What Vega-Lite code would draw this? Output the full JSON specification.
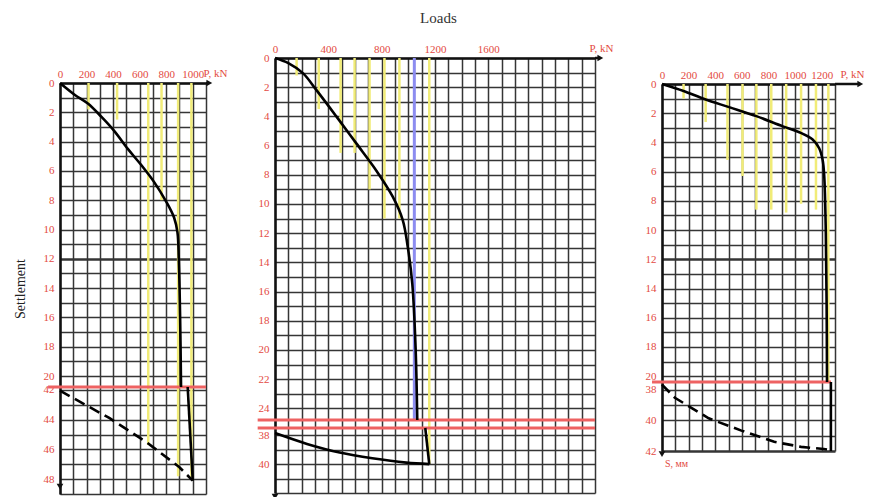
{
  "$schema": "https://vega.github.io/schema/vega-lite/v6.json",
  "background": "white",
  "padding": {"left": 13, "top": 11, "right": 0, "bottom": 0},
  "title": {"text": "Loads", "font": "Liberation Serif", "fontSize": 15, "fontWeight": "normal", "color": "#333333", "anchor": "middle", "offset": 16},
  "config": {
    "view": {"stroke": null},
    "axis": {
      "labelFont": "Liberation Serif", "labelFontSize": 11, "labelColor": "#e34a42",
      "ticks": false, "domainColor": "#111111", "domainWidth": 2.5,
      "grid": true, "gridColor": "#353535", "gridWidth": 1.5,
      "labelOverlap": false, "labelFlush": false, "labelBound": false,
      "titleFont": "Liberation Serif", "titleFontWeight": "normal"
    }
  },
  "datasets": {
    "p1curve": [
      {"seg": "a", "i": 0, "P": 0, "S": 0}, {"seg": "a", "i": 1, "P": 110, "S": 0.8}, {"seg": "a", "i": 2, "P": 210, "S": 1.4},
      {"seg": "a", "i": 3, "P": 311, "S": 2.3}, {"seg": "a", "i": 4, "P": 411, "S": 3.3}, {"seg": "a", "i": 5, "P": 511, "S": 4.5},
      {"seg": "a", "i": 6, "P": 612, "S": 5.6}, {"seg": "a", "i": 7, "P": 712, "S": 6.8}, {"seg": "a", "i": 8, "P": 800, "S": 8.1},
      {"seg": "a", "i": 9, "P": 860, "S": 9.2}, {"seg": "a", "i": 10, "P": 885, "S": 10.2}, {"seg": "a", "i": 11, "P": 895, "S": 12},
      {"seg": "a", "i": 12, "P": 905, "S": 16}, {"seg": "a", "i": 13, "P": 912, "S": 20.75},
      {"seg": "b", "i": 14, "P": 962, "S": 41.8}, {"seg": "b", "i": 15, "P": 1000, "S": 48.1}
    ],
    "p1dash": [
      {"i": 0, "P": 0, "S": 42.05}, {"i": 1, "P": 374, "S": 43.9}, {"i": 2, "P": 650, "S": 45.5}, {"i": 3, "P": 900, "S": 47.2}, {"i": 4, "P": 1000, "S": 48.1}
    ],
    "p1yellow": [
      {"P": 215, "S": 0, "S2": 1.8}, {"P": 430, "S": 0, "S2": 2.5}, {"P": 665, "S": 0, "S2": 45.7},
      {"P": 765, "S": 0, "S2": 8}, {"P": 890, "S": 0, "S2": 47.8}, {"P": 990, "S": 0, "S2": 48}
    ],
    "p1break": [{"P": -90, "P2": 1100, "S": 20.75}],
    "p1ext": [{"P": 1100, "P2": 1120, "S": 0}],
    "p1arrow": [{"P": 1125, "S": 0, "shape": "triangle-right"}, {"P": 0, "S": 48.5, "shape": "triangle-down"}],

    "p2curve": [
      {"seg": "a", "i": 0, "P": 0, "S": 0}, {"seg": "a", "i": 1, "P": 100, "S": 0.35}, {"seg": "a", "i": 2, "P": 211, "S": 1.05},
      {"seg": "a", "i": 3, "P": 311, "S": 2.2}, {"seg": "a", "i": 4, "P": 460, "S": 4.0}, {"seg": "a", "i": 5, "P": 610, "S": 5.85},
      {"seg": "a", "i": 6, "P": 759, "S": 7.7}, {"seg": "a", "i": 7, "P": 883, "S": 9.5}, {"seg": "a", "i": 8, "P": 958, "S": 11.1},
      {"seg": "a", "i": 9, "P": 995, "S": 12.9}, {"seg": "a", "i": 10, "P": 1030, "S": 15.5}, {"seg": "a", "i": 11, "P": 1055, "S": 20},
      {"seg": "a", "i": 12, "P": 1067, "S": 24.8},
      {"seg": "b", "i": 13, "P": 1127, "S": 37.5}, {"seg": "b", "i": 14, "P": 1157, "S": 40},
      {"seg": "c", "i": 15, "P": 1157, "S": 40}, {"seg": "c", "i": 16, "P": 985, "S": 39.9}, {"seg": "c", "i": 17, "P": 730, "S": 39.6},
      {"seg": "c", "i": 18, "P": 485, "S": 39.2}, {"seg": "c", "i": 19, "P": 240, "S": 38.6}, {"seg": "c", "i": 20, "P": 0, "S": 37.85}
    ],
    "p2yellow": [
      {"P": 162, "S": 0, "S2": 1.2}, {"P": 328, "S": 0, "S2": 3.5}, {"P": 492, "S": 0, "S2": 6.5}, {"P": 597, "S": 0, "S2": 6.5},
      {"P": 709, "S": 0, "S2": 9}, {"P": 821, "S": 0, "S2": 11}, {"P": 933, "S": 0, "S2": 11}, {"P": 1157, "S": 0, "S2": 40}
    ],
    "p2blue": [{"P": 1045, "S": 0, "S2": 24.8}],
    "p2break": [{"P": -130, "P2": 2400, "S": 24.8}, {"P": -130, "P2": 2400, "S": 37.5}],
    "p2ext": [{"P": 2400, "P2": 2430, "S": 0}],
    "p2arrow": [{"P": 2440, "S": 0, "shape": "triangle-right"}, {"P": 0, "S": 42.25, "shape": "triangle-down"}],

    "p3curve": [
      {"seg": "a", "i": 0, "P": 0, "S": 0}, {"seg": "a", "i": 1, "P": 162, "S": 0.48}, {"seg": "a", "i": 2, "P": 323, "S": 1.05},
      {"seg": "a", "i": 3, "P": 510, "S": 1.6}, {"seg": "a", "i": 4, "P": 709, "S": 2.2}, {"seg": "a", "i": 5, "P": 908, "S": 2.9},
      {"seg": "a", "i": 6, "P": 1032, "S": 3.3}, {"seg": "a", "i": 7, "P": 1132, "S": 3.8}, {"seg": "a", "i": 8, "P": 1181, "S": 4.4},
      {"seg": "a", "i": 9, "P": 1207, "S": 5.2}, {"seg": "a", "i": 10, "P": 1219, "S": 6.3}, {"seg": "a", "i": 11, "P": 1231, "S": 10.2},
      {"seg": "a", "i": 12, "P": 1237, "S": 15}, {"seg": "a", "i": 13, "P": 1240, "S": 20.4},
      {"seg": "b", "i": 14, "P": 1269, "S": 37.5}, {"seg": "b", "i": 15, "P": 1269, "S": 42}
    ],
    "p3dash": [
      {"i": 0, "P": 0, "S": 37.67}, {"i": 1, "P": 97, "S": 38.53}, {"i": 2, "P": 224, "S": 39.2}, {"i": 3, "P": 351, "S": 39.87},
      {"i": 4, "P": 597, "S": 40.67}, {"i": 5, "P": 843, "S": 41.4}, {"i": 6, "P": 1045, "S": 41.73}, {"i": 7, "P": 1216, "S": 41.87},
      {"i": 8, "P": 1269, "S": 41.95}
    ],
    "p3yellow": [
      {"P": 162, "S": 0, "S2": 1}, {"P": 328, "S": 0, "S2": 2.6}, {"P": 492, "S": 0, "S2": 5.2}, {"P": 605, "S": 0, "S2": 6.3},
      {"P": 709, "S": 0, "S2": 8.6}, {"P": 821, "S": 0, "S2": 8.6}, {"P": 933, "S": 0, "S2": 8.8}, {"P": 1045, "S": 0, "S2": 8.2},
      {"P": 1157, "S": 0, "S2": 8.6}, {"P": 1250, "S": 0, "S2": 20.4}
    ],
    "p3break": [{"P": -75, "P2": 1270, "S": 20.4}],
    "p3ext": [{"P": 1300, "P2": 1480, "S": 0}],
    "p3arrow": [{"P": 1490, "S": 0, "shape": "triangle-right"}, {"P": 0, "S": 42.2, "shape": "triangle-down"}]
  },
  "spacing": 29,
  "hconcat": [
    {
      "width": 146, "height": 436,
      "encoding": {
        "x": {"field": "P", "type": "quantitative",
          "scale": {"domain": [0, 1100], "nice": false, "zero": false},
          "axis": {"orient": "top", "offset": -25, "values": [0,100,200,300,400,500,600,700,800,900,1000,1100], "format": "d",
            "labelExpr": "datum.value % 200 === 0 && datum.value <= 1000 ? datum.label : ''",
            "labelPadding": 4,
            "title": "P, kN", "titleX": 143, "titleY": -10, "titleAlign": "left", "titleBaseline": "middle", "titleAngle": 0,
            "titleColor": "#e34a42", "titleFontSize": 11}},
        "y": {"field": "S", "type": "quantitative",
          "scale": {"domain": [0, 20.75, 41.8, 49], "range": [25, 329, 329, 436], "nice": false, "zero": false},
          "axis": {"values": [0,1,2,3,4,5,6,7,8,9,10,11,12,13,14,15,16,17,18,19,20,42,43,44,45,46,47,48,49],
            "labelExpr": "datum.value % 2 === 0 ? datum.label : ''", "labelPadding": 6,
            "gridWidth": {"condition": {"test": "datum.value === 12", "value": 2.3}, "value": 1.5},
            "title": "Settlement", "titleFontSize": 14, "titleColor": "#222222", "titlePadding": 16}}
      },
      "layer": [
        {"data": {"name": "p1yellow"}, "mark": {"type": "rule", "color": "#f1ec78", "strokeWidth": 2.5}, "encoding": {"y2": {"field": "S2"}}},
        {"data": {"name": "p1break"}, "mark": {"type": "rule", "color": "#ee6262", "strokeWidth": 3}, "encoding": {"x2": {"field": "P2"}}},
        {"data": {"name": "p1curve"}, "mark": {"type": "line", "color": "#000000", "strokeWidth": 2.6, "interpolate": "catmull-rom"},
          "encoding": {"detail": {"field": "seg"}, "order": {"field": "i", "type": "quantitative"}}},
        {"data": {"name": "p1dash"}, "mark": {"type": "line", "color": "#000000", "strokeWidth": 2.6, "strokeDash": [11, 6]},
          "encoding": {"order": {"field": "i", "type": "quantitative"}}},
        {"data": {"name": "p1ext"}, "mark": {"type": "rule", "color": "#111111", "strokeWidth": 2.5}, "encoding": {"x2": {"field": "P2"}}},
        {"data": {"name": "p1arrow"}, "mark": {"type": "point", "filled": true, "color": "#111111", "size": 45, "opacity": 1},
          "encoding": {"shape": {"field": "shape", "type": "nominal", "scale": null}}}
      ]
    },
    {
      "spacing": 32,
      "hconcat": [
        {
          "width": 320, "height": 435,
          "encoding": {
            "x": {"field": "P", "type": "quantitative",
              "scale": {"domain": [0, 2400], "nice": false, "zero": false},
              "axis": {"orient": "top", "values": [0,100,200,300,400,500,600,700,800,900,1000,1100,1200,1300,1400,1500,1600,1700,1800,1900,2000,2100,2200,2300,2400], "format": "d",
                "labelExpr": "datum.value % 400 === 0 && datum.value <= 1600 ? datum.label : ''",
                "labelPadding": 4,
                "title": "P, kN", "titleX": 314, "titleY": -10, "titleAlign": "left", "titleBaseline": "middle", "titleAngle": 0,
                "titleColor": "#e34a42", "titleFontSize": 11}},
            "y": {"field": "S", "type": "quantitative",
              "scale": {"domain": [0, 24.8, 37.5, 42], "range": [0, 362, 370, 435], "nice": false, "zero": false},
              "axis": {"values": [0,1,2,3,4,5,6,7,8,9,10,11,12,13,14,15,16,17,18,19,20,21,22,23,24,38,39,40,41,42],
                "labelExpr": "datum.value % 2 === 0 && datum.value < 42 ? datum.label : ''", "labelPadding": 6,
                "title": null}}
          },
          "layer": [
            {"data": {"name": "p2yellow"}, "mark": {"type": "rule", "color": "#f1ec78", "strokeWidth": 2.5}, "encoding": {"y2": {"field": "S2"}}},
            {"data": {"name": "p2blue"}, "mark": {"type": "rule", "color": "#8c8cf0", "strokeWidth": 3}, "encoding": {"y2": {"field": "S2"}}},
            {"data": {"name": "p2break"}, "mark": {"type": "rule", "color": "#ee6262", "strokeWidth": 3}, "encoding": {"x2": {"field": "P2"}}},
            {"data": {"name": "p2curve"}, "mark": {"type": "line", "color": "#000000", "strokeWidth": 2.6, "interpolate": "catmull-rom"},
              "encoding": {"detail": {"field": "seg"}, "order": {"field": "i", "type": "quantitative"}}},
            {"data": {"name": "p2ext"}, "mark": {"type": "rule", "color": "#111111", "strokeWidth": 2.5}, "encoding": {"x2": {"field": "P2"}}},
            {"data": {"name": "p2arrow"}, "mark": {"type": "point", "filled": true, "color": "#111111", "size": 45, "opacity": 1},
              "encoding": {"shape": {"field": "shape", "type": "nominal", "scale": null}}}
          ]
        },
        {
          "width": 173, "height": 393,
          "encoding": {
            "x": {"field": "P", "type": "quantitative",
              "scale": {"domain": [0, 1300], "nice": false, "zero": false},
              "axis": {"orient": "top", "offset": -26, "values": [0,100,200,300,400,500,600,700,800,900,1000,1100,1200,1300], "format": "d",
                "labelExpr": "datum.value % 200 === 0 ? datum.label : ''",
                "labelPadding": 4,
                "title": "P, kN", "titleX": 178, "titleY": -10, "titleAlign": "left", "titleBaseline": "middle", "titleAngle": 0,
                "titleColor": "#e34a42", "titleFontSize": 11}},
            "y": {"field": "S", "type": "quantitative",
              "scale": {"domain": [0, 20.4, 37.5, 42], "range": [26, 324, 324, 393], "nice": false, "zero": false},
              "axis": {"values": [0,1,2,3,4,5,6,7,8,9,10,11,12,13,14,15,16,17,18,19,20,38,39,40,41,42],
                "labelExpr": "datum.value % 2 === 0 ? datum.label : ''", "labelPadding": 6,
                "gridWidth": {"condition": {"test": "datum.value === 12 || datum.value === 42", "value": 2.3}, "value": 1.5},
                "title": "S, мм", "titleAngle": 0, "titleX": 14, "titleY": 405, "titleAlign": "center", "titleBaseline": "middle",
                "titleColor": "#e34a42", "titleFontSize": 10}}
          },
          "layer": [
            {"data": {"name": "p3yellow"}, "mark": {"type": "rule", "color": "#f1ec78", "strokeWidth": 2.5}, "encoding": {"y2": {"field": "S2"}}},
            {"data": {"name": "p3break"}, "mark": {"type": "rule", "color": "#ee6262", "strokeWidth": 3}, "encoding": {"x2": {"field": "P2"}}},
            {"data": {"name": "p3curve"}, "mark": {"type": "line", "color": "#000000", "strokeWidth": 2.6, "interpolate": "catmull-rom"},
              "encoding": {"detail": {"field": "seg"}, "order": {"field": "i", "type": "quantitative"}}},
            {"data": {"name": "p3dash"}, "mark": {"type": "line", "color": "#000000", "strokeWidth": 2.6, "strokeDash": [11, 6]},
              "encoding": {"order": {"field": "i", "type": "quantitative"}}},
            {"data": {"name": "p3ext"}, "mark": {"type": "rule", "color": "#111111", "strokeWidth": 2.5}, "encoding": {"x2": {"field": "P2"}}},
            {"data": {"name": "p3arrow"}, "mark": {"type": "point", "filled": true, "color": "#111111", "size": 45, "opacity": 1},
              "encoding": {"shape": {"field": "shape", "type": "nominal", "scale": null}}}
          ]
        }
      ]
    }
  ]
}
